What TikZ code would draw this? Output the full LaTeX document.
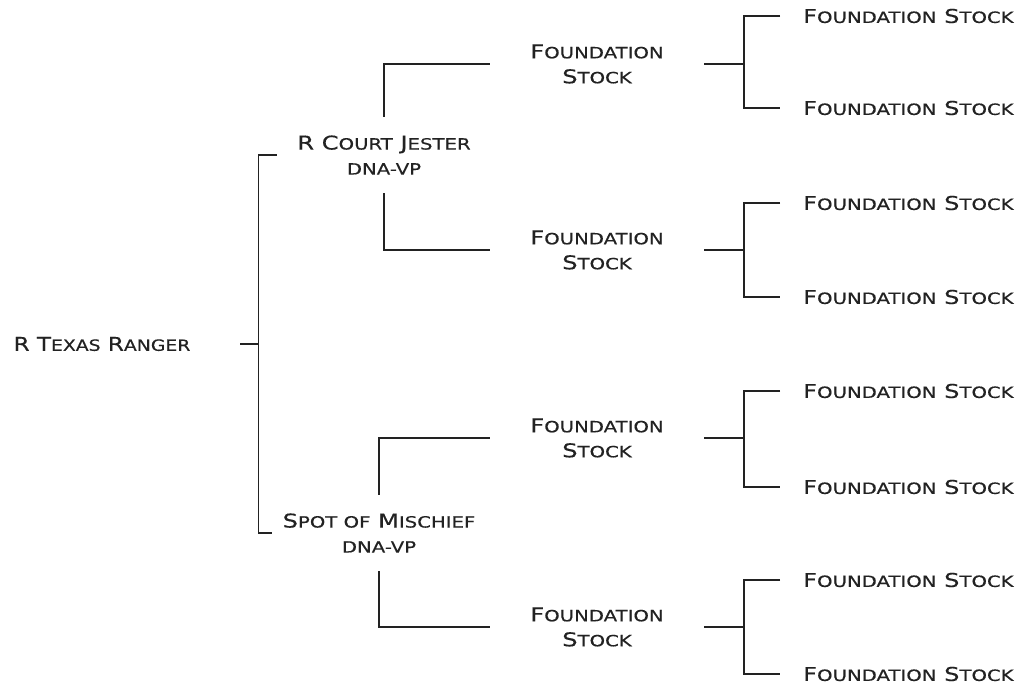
\documentclass[tikz,border=0pt]{standalone}
\usepackage{fontspec}
\usepackage{graphicx}
\setmainfont[FakeStretch=1.27,FakeBold=0.4]{DejaVu Sans}
\newcommand\capsz{\fontsize{19}{25}\selectfont}
\newcommand\smsz{\fontsize{15.5}{25}\selectfont}
\newcommand\SC[2]{{\capsz #1}{\smsz #2}}
\definecolor{ink}{HTML}{222222}
\begin{document}
\begin{tikzpicture}[x=1pt,y=-1pt,
  txt/.style={font=\capsz, text=ink, align=center, inner sep=0pt},
  rootbox/.style={txt, minimum width=276pt},
  parbox/.style={txt, minimum width=214pt, minimum height=75pt},
  fsbox/.style={txt, minimum width=214pt},
  leafbox/.style={txt, anchor=west, inner xsep=23pt},
  conn/.style={draw=ink, line width=1.3pt}]
\useasboundingbox[fill=white] (0,0) rectangle (1018,687);

\node[rootbox] (r) at (102,344) {\scalebox{0.955}[1]{\SC{R}{} \SC{T}{EXAS} \SC{R}{ANGER}}};
\node[parbox] (j) at (384,155) {\SC{R}{} \SC{C}{OURT} \SC{J}{ESTER}\\{\smsz DNA-VP}};
\node[parbox] (m) at (379,533) {\SC{S}{POT OF} \SC{M}{ISCHIEF}\\{\smsz DNA-VP}};

\node[fsbox] (f1) at (597,64)  {\SC{F}{OUNDATION}\\\SC{S}{TOCK}};
\node[fsbox] (f2) at (597,250) {\SC{F}{OUNDATION}\\\SC{S}{TOCK}};
\node[fsbox] (f3) at (597,438) {\SC{F}{OUNDATION}\\\SC{S}{TOCK}};
\node[fsbox] (f4) at (597,627) {\SC{F}{OUNDATION}\\\SC{S}{TOCK}};

\node[leafbox] (l1) at (780,16)  {\SC{F}{OUNDATION} \SC{S}{TOCK}};
\node[leafbox] (l2) at (780,108) {\SC{F}{OUNDATION} \SC{S}{TOCK}};
\node[leafbox] (l3) at (780,203) {\SC{F}{OUNDATION} \SC{S}{TOCK}};
\node[leafbox] (l4) at (780,297) {\SC{F}{OUNDATION} \SC{S}{TOCK}};
\node[leafbox] (l5) at (780,391) {\SC{F}{OUNDATION} \SC{S}{TOCK}};
\node[leafbox] (l6) at (780,487) {\SC{F}{OUNDATION} \SC{S}{TOCK}};
\node[leafbox] (l7) at (780,580) {\SC{F}{OUNDATION} \SC{S}{TOCK}};
\node[leafbox] (l8) at (780,674) {\SC{F}{OUNDATION} \SC{S}{TOCK}};

\draw[conn] (r.east) -- ++(19,0);
\draw[conn] (j.west) -- ++(-18,0) |- (m.west);
\draw[conn] (f1.west) -| (j.north);
\draw[conn] (f2.west) -| (j.south);
\draw[conn] (f3.west) -| (m.north);
\draw[conn] (f4.west) -| (m.south);
\foreach \f/\a/\b in {f1/l1/l2, f2/l3/l4, f3/l5/l6, f4/l7/l8}{
  \draw[conn] (\f.east) -- ++(40,0);
  \draw[conn] (\a.west) -- ++(-36,0) |- (\b.west);
}
\end{tikzpicture}
\end{document}
